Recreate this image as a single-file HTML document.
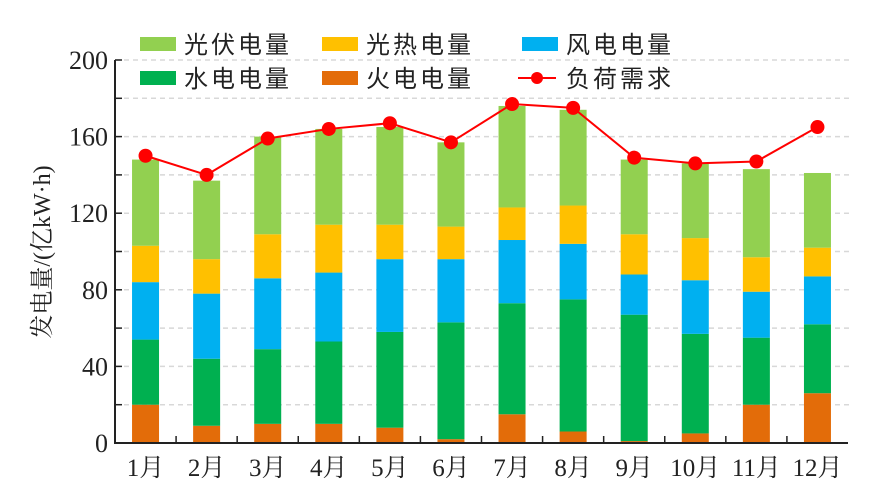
<!DOCTYPE html>
<html><head><meta charset="utf-8">
<style>
html,body{margin:0;padding:0;background:#fff;}
svg{display:block;}
text{font-family:"Liberation Serif","Noto Serif CJK SC","Noto Sans CJK SC",serif;fill:#222;}
.cjk{font-family:"Liberation Sans","Noto Sans CJK SC",sans-serif;}
</style></head>
<body>
<svg id="chart" width="873" height="493" viewBox="0 0 873 493">
<g id="grid"></g>
<g id="bars"></g>
<g id="line"></g>
<g id="axes"></g>
<text x="50" y="252" font-size="24" text-anchor="middle" transform="rotate(-90 50 252)" style="font-family:'Liberation Serif','Noto Serif CJK SC',serif">发电量/(亿kW·h)</text>
<g>
 <rect x="140" y="37" width="36" height="14" fill="#92d050"/>
 <text class="cjk" x="184" y="53" font-size="24" letter-spacing="3">光伏电量</text>
 <rect x="322" y="37" width="36" height="14" fill="#ffc000"/>
 <text class="cjk" x="366" y="53" font-size="24" letter-spacing="3">光热电量</text>
 <rect x="522" y="37" width="36" height="14" fill="#00b0f0"/>
 <text class="cjk" x="566" y="53" font-size="24" letter-spacing="3">风电电量</text>
 <rect x="140" y="71" width="36" height="14" fill="#00b050"/>
 <text class="cjk" x="184" y="87" font-size="24" letter-spacing="3">水电电量</text>
 <rect x="322" y="71" width="36" height="14" fill="#e36c09"/>
 <text class="cjk" x="366" y="87" font-size="24" letter-spacing="3">火电电量</text>
 <line x1="518" y1="78" x2="556" y2="78" stroke="#ff0000" stroke-width="2"/>
 <circle cx="537" cy="78" r="6" fill="#ff0000"/>
 <text class="cjk" x="566" y="87" font-size="24" letter-spacing="3">负荷需求</text>
</g>
</svg>
<script>
const months = ["1月","2月","3月","4月","5月","6月","7月","8月","9月","10月","11月","12月"];
const fire = [20,9,10,10,8,2,15,6,1,5,20,26];
const hydro = [34,35,39,43,50,61,58,69,66,52,35,36];
const wind = [30,34,37,36,38,33,33,29,21,28,24,25];
const thermal = [19,18,23,25,18,17,17,20,21,22,18,15];
const pv = [45,41,51,50,51,44,53,50,39,39,46,39];
const demand = [150,140,159,164,167,157,177,175,149,146,147,165];
const yTicks = [0,40,80,120,160,200];

const NS="http://www.w3.org/2000/svg";
const X0=115, X1=848, Y0=443, Y1=60, VMAX=200;
const slot=(X1-X0)/months.length;
const xc=i=>X0+slot*(i+0.5);
const y=v=>Y0-(v/VMAX)*(Y0-Y1);
function mk(tag,attrs,parent){const e=document.createElementNS(NS,tag);for(const k in attrs)e.setAttribute(k,attrs[k]);parent.appendChild(e);return e;}
const grid=document.getElementById('grid'),bars=document.getElementById('bars'),line=document.getElementById('line'),axes=document.getElementById('axes');

for(let v=20;v<=VMAX;v+=20){
  const g=mk('line',{x1:X0,x2:X1+5,y1:y(v),y2:y(v),stroke:'#d8d8d8','stroke-width':1.5,'stroke-dasharray':'5,4'},grid);
  
  
}
const series=[[fire,'#e36c09','fire'],[hydro,'#00b050','hydro'],[wind,'#00b0f0','wind'],[thermal,'#ffc000','thermal'],[pv,'#92d050','pv']];
const bw=27;
months.forEach((m,i)=>{
  let base=0;
  series.forEach(([arr,col,nm])=>{
    const v=arr[i];
    const r=mk('rect',{x:xc(i)-bw/2,y:y(base+v),width:bw,height:y(base)-y(base+v),fill:col},bars);
    
    
    base+=v;
  });
});
const pts=demand.map((v,i)=>xc(i)+','+y(v)).join(' ');
const pl=mk('polyline',{points:pts,fill:'none',stroke:'#ff0000','stroke-width':2},line);


demand.forEach((v,i)=>{
  const c=mk('circle',{cx:xc(i),cy:y(v),r:7,fill:'#ff0000'},line);
  
  
});
const ya=mk('line',{x1:X0,x2:X0,y1:Y1,y2:Y0+1,stroke:'#222','stroke-width':2},axes);


const xa=mk('line',{x1:X0-1,x2:X1,y1:Y0,y2:Y0,stroke:'#222','stroke-width':2},axes);


for(let v=0;v<=VMAX;v+=20){
  const t=mk('line',{x1:X0,x2:X0+7,y1:y(v),y2:y(v),stroke:'#222','stroke-width':1.5},axes);
  
  
}
yTicks.forEach(v=>{
  const t=mk('text',{x:108,y:y(v)+9,'font-size':26,'text-anchor':'end'},axes);
  t.textContent=v;
  
  
});
for(let i=1;i<months.length;i++){
  const t=mk('line',{x1:X0+slot*i,x2:X0+slot*i,y1:Y0,y2:Y0-7,stroke:'#222','stroke-width':1.5},axes);
  
  
}
months.forEach((m,i)=>{
  const t=mk('text',{x:xc(i),y:476,'font-size':25,'text-anchor':'middle'},axes);
  t.textContent=m;
  
  
});
</script>
</body></html>
